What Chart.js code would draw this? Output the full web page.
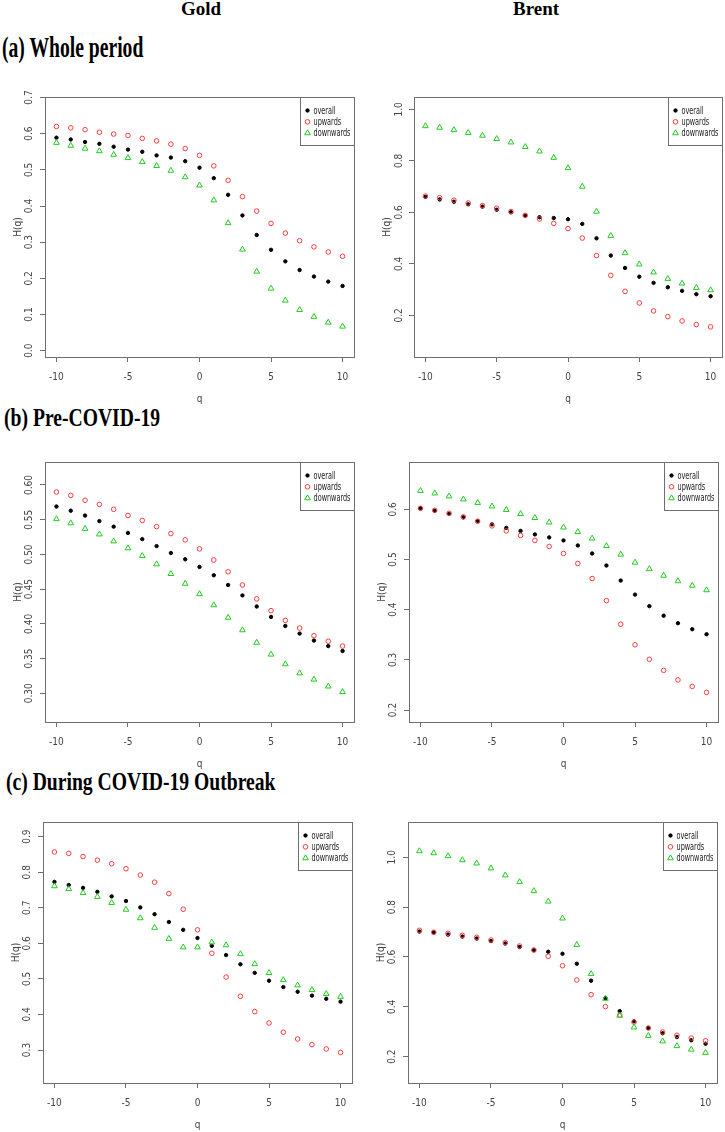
<!DOCTYPE html>
<html>
<head>
<meta charset="utf-8">
<script src="https://cdn.jsdelivr.net/npm/chart.js@4"></script>
<style>
  html, body { margin: 0; padding: 0; background: #fff; overflow: hidden; }
  #page { position: relative; width: 725px; height: 1132px; }
  canvas { position: absolute; }
  .head { position: absolute; font-family: "Liberation Serif", "DejaVu Serif", serif; font-weight: bold; color: #000; white-space: nowrap; line-height: 1; }
  .col { font-size: 19px; width: 120px; text-align: center; }
  .sec { transform-origin: 0 0; }
</style>
</head>
<body>
<div id="page">
  <div class="head col" style="left:141px; top:-1px;">Gold</div>
  <div class="head col" style="left:476px; top:-1px;">Brent</div>
  <div class="head sec" style="left:2px; top:32px; font-size:30px; transform:scaleX(0.654);">(a) Whole period</div>
  <div class="head sec" style="left:4px; top:405px; font-size:25px; transform:scaleX(0.785);">(b) Pre-COVID-19</div>
  <div class="head sec" style="left:6px; top:769px; font-size:25px; transform:scaleX(0.785);">(c) During COVID-19 Outbreak</div>
  <canvas id="c1"></canvas>
  <canvas id="c2"></canvas>
  <canvas id="c3"></canvas>
  <canvas id="c4"></canvas>
  <canvas id="c5"></canvas>
  <canvas id="c6"></canvas>
</div>
<script>
// q values on the x axis
const qValues = [-10, -9, -8, -7, -6, -5, -4, -3, -2, -1, 0, 1, 2, 3, 4, 5, 6, 7, 8, 9, 10];

// (a) whole period
const goldWholeOverall = [0.589, 0.584, 0.577, 0.572, 0.564, 0.556, 0.550, 0.540, 0.534, 0.524, 0.506, 0.477, 0.431, 0.374, 0.320, 0.279, 0.247, 0.223, 0.205, 0.191, 0.179];
const goldWholeUp = [0.620, 0.616, 0.611, 0.604, 0.599, 0.595, 0.587, 0.580, 0.571, 0.559, 0.540, 0.511, 0.471, 0.426, 0.386, 0.352, 0.325, 0.304, 0.287, 0.273, 0.261];
const goldWholeDown = [0.575, 0.567, 0.559, 0.552, 0.542, 0.533, 0.522, 0.511, 0.498, 0.480, 0.457, 0.416, 0.353, 0.280, 0.219, 0.172, 0.139, 0.113, 0.094, 0.078, 0.067];
const brentWholeOverall = [0.660, 0.650, 0.641, 0.631, 0.622, 0.610, 0.600, 0.587, 0.581, 0.578, 0.573, 0.555, 0.499, 0.432, 0.384, 0.350, 0.326, 0.309, 0.295, 0.282, 0.274];
const brentWholeUp = [0.663, 0.657, 0.647, 0.636, 0.626, 0.616, 0.603, 0.588, 0.574, 0.557, 0.537, 0.500, 0.432, 0.355, 0.293, 0.248, 0.217, 0.195, 0.178, 0.164, 0.155];
const brentWholeDown = [0.935, 0.929, 0.920, 0.909, 0.898, 0.885, 0.872, 0.854, 0.837, 0.812, 0.772, 0.700, 0.603, 0.509, 0.442, 0.398, 0.367, 0.342, 0.324, 0.307, 0.298];

// (b) pre-COVID-19
const goldPreOverall = [0.569, 0.563, 0.556, 0.548, 0.540, 0.531, 0.522, 0.512, 0.502, 0.493, 0.482, 0.470, 0.456, 0.441, 0.425, 0.410, 0.397, 0.386, 0.376, 0.368, 0.361];
const goldPreUp = [0.590, 0.585, 0.578, 0.572, 0.565, 0.556, 0.549, 0.540, 0.530, 0.521, 0.508, 0.492, 0.475, 0.456, 0.436, 0.419, 0.405, 0.394, 0.383, 0.375, 0.368];
const goldPreDown = [0.551, 0.545, 0.537, 0.529, 0.519, 0.509, 0.498, 0.486, 0.472, 0.458, 0.443, 0.427, 0.409, 0.391, 0.373, 0.356, 0.342, 0.329, 0.320, 0.310, 0.302];
const brentPreOverall = [0.602, 0.597, 0.591, 0.584, 0.577, 0.570, 0.563, 0.557, 0.550, 0.544, 0.538, 0.528, 0.512, 0.488, 0.458, 0.430, 0.407, 0.388, 0.373, 0.361, 0.351];
const brentPreUp = [0.602, 0.598, 0.592, 0.585, 0.576, 0.567, 0.557, 0.548, 0.538, 0.526, 0.512, 0.492, 0.462, 0.418, 0.371, 0.330, 0.301, 0.279, 0.260, 0.247, 0.235];
const brentPreDown = [0.637, 0.632, 0.626, 0.620, 0.613, 0.606, 0.599, 0.591, 0.583, 0.574, 0.564, 0.555, 0.542, 0.527, 0.510, 0.494, 0.481, 0.468, 0.457, 0.448, 0.439];

// (c) during COVID-19 outbreak
const goldCovidOverall = [0.773, 0.764, 0.756, 0.745, 0.732, 0.719, 0.701, 0.682, 0.660, 0.638, 0.615, 0.593, 0.567, 0.541, 0.517, 0.495, 0.477, 0.464, 0.453, 0.444, 0.436];
const goldCovidUp = [0.857, 0.853, 0.844, 0.834, 0.824, 0.810, 0.792, 0.772, 0.740, 0.696, 0.638, 0.572, 0.505, 0.451, 0.408, 0.376, 0.350, 0.331, 0.315, 0.303, 0.293];
const goldCovidDown = [0.761, 0.753, 0.742, 0.731, 0.714, 0.695, 0.671, 0.644, 0.613, 0.589, 0.589, 0.603, 0.595, 0.570, 0.542, 0.517, 0.497, 0.482, 0.469, 0.458, 0.450];
const brentCovidOverall = [0.702, 0.699, 0.690, 0.682, 0.674, 0.664, 0.654, 0.640, 0.627, 0.621, 0.613, 0.573, 0.505, 0.435, 0.383, 0.342, 0.315, 0.294, 0.279, 0.266, 0.252];
const brentCovidUp = [0.707, 0.699, 0.695, 0.687, 0.679, 0.668, 0.658, 0.644, 0.628, 0.603, 0.565, 0.508, 0.449, 0.401, 0.367, 0.339, 0.315, 0.299, 0.286, 0.275, 0.264];
const brentCovidDown = [1.025, 1.017, 1.005, 0.989, 0.976, 0.956, 0.928, 0.901, 0.865, 0.823, 0.755, 0.649, 0.532, 0.433, 0.365, 0.318, 0.284, 0.262, 0.243, 0.229, 0.216];

// tick labels
const xTicks = [-10, -5, 0, 5, 10];
const xTickLabels = ["-10", "-5", "0", "5", "10"];
const yTicksGoldWhole = [0, 0.1, 0.2, 0.3, 0.4, 0.5, 0.6, 0.7];
const yLabelsGoldWhole = ["0.0", "0.1", "0.2", "0.3", "0.4", "0.5", "0.6", "0.7"];
const yTicksBrent = [0.2, 0.4, 0.6, 0.8, 1.0];
const yLabelsBrent = ["0.2", "0.4", "0.6", "0.8", "1.0"];
const yTicksGoldPre = [0.30, 0.35, 0.40, 0.45, 0.50, 0.55, 0.60];
const yLabelsGoldPre = ["0.30", "0.35", "0.40", "0.45", "0.50", "0.55", "0.60"];
const yTicksBrentPre = [0.2, 0.3, 0.4, 0.5, 0.6];
const yLabelsBrentPre = ["0.2", "0.3", "0.4", "0.5", "0.6"];
const yTicksGoldCovid = [0.3, 0.4, 0.5, 0.6, 0.7, 0.8, 0.9];
const yLabelsGoldCovid = ["0.3", "0.4", "0.5", "0.6", "0.7", "0.8", "0.9"];

const seriesNames = ["overall", "upwards", "downwards"];

const narrow = "'Liberation Sans Narrow', 'DejaVu Sans Condensed', 'Liberation Sans', Arial, sans-serif";
const axisGray = "#6e6e6e";

// plot boxes are [left, top, right, bottom] on the page
const panels = [
  { id: "c1", data: [goldWholeOverall, goldWholeUp, goldWholeDown], ticks: yTicksGoldWhole, labels: yLabelsGoldWhole, yMin: -0.0174, yMax: 0.7014, box: [45, 97, 355, 357], pad: 3 },
  { id: "c2", data: [brentWholeOverall, brentWholeUp, brentWholeDown], ticks: yTicksBrent, labels: yLabelsBrent, yMin: 0.0381, yMax: 1.0478, box: [414, 97, 723, 357], pad: 2 },
  { id: "c3", data: [goldPreOverall, goldPreUp, goldPreDown], ticks: yTicksGoldPre, labels: yLabelsGoldPre, yMin: 0.2587, yMax: 0.6331, box: [45, 462, 355, 722], pad: 1 },
  { id: "c4", data: [brentPreOverall, brentPreUp, brentPreDown], ticks: yTicksBrentPre, labels: yLabelsBrentPre, yMin: 0.1761, yMax: 0.6943, box: [409, 462, 719, 722], pad: 3 },
  { id: "c5", data: [goldCovidOverall, goldCovidUp, goldCovidDown], ticks: yTicksGoldCovid, labels: yLabelsGoldCovid, yMin: 0.2072, yMax: 0.9413, box: [43, 822, 353, 1083], pad: 3 },
  { id: "c6", data: [brentCovidOverall, brentCovidUp, brentCovidDown], ticks: yTicksBrent, labels: yLabelsBrent, yMin: 0.0945, yMax: 1.1416, box: [408, 822, 718, 1083], pad: 3 },
];

const pointLook = [
  { pointStyle: "circle", pointRadius: 1.7, backgroundColor: "#000", borderColor: "#000", borderWidth: 1, order: 3 },
  { pointStyle: "circle", pointRadius: 2.3, backgroundColor: "rgba(0,0,0,0)", borderColor: "#ff3c3c", borderWidth: 1, order: 2 },
  { pointStyle: "triangle", pointRadius: 3.3, backgroundColor: "rgba(0,0,0,0)", borderColor: "#22cc22", borderWidth: 1, order: 1 },
];

// box round the plot region, like R's bty="o"
const frame = {
  id: "frame",
  afterDraw(chart) {
    const { ctx, chartArea: a } = chart;
    ctx.save();
    ctx.strokeStyle = axisGray;
    ctx.lineWidth = 1;
    ctx.strokeRect(Math.round(a.left) + 0.5, Math.round(a.top) + 0.5, Math.round(a.right - a.left), Math.round(a.bottom - a.top));
    ctx.restore();
  },
};

// legend in the top-right corner of the plot region
const boxLegend = {
  id: "boxLegend",
  afterDatasetsDraw(chart) {
    const { ctx, chartArea: a } = chart;
    const w = 54, h = 48;
    const x0 = Math.round(a.right - w), y0 = Math.round(a.top);
    ctx.save();
    ctx.fillStyle = "#fff";
    ctx.fillRect(x0, y0, w, h);
    ctx.strokeStyle = axisGray;
    ctx.lineWidth = 1;
    ctx.strokeRect(x0 + 0.5, y0 + 0.5, w, h);
    ctx.font = "10.5px " + narrow;
    ctx.textBaseline = "middle";
    ctx.textAlign = "left";
    // squeeze the text so "downwards" fits the narrow box as in the figure
    const squeeze = Math.min(1, 37 / ctx.measureText("downwards").width);
    chart.data.datasets.forEach((ds, i) => {
      const y = y0 + 13.5 + i * 11.3;
      ctx.fillStyle = ds.backgroundColor;
      ctx.strokeStyle = ds.borderColor;
      ctx.lineWidth = ds.borderWidth;
      Chart.helpers.drawPoint(ctx, { pointStyle: ds.pointStyle, radius: ds.pointRadius, borderWidth: ds.borderWidth, rotation: 0 }, x0 + 7.5, y);
      ctx.save();
      ctx.translate(x0 + 13.5, y + 0.5);
      ctx.scale(squeeze, 1);
      ctx.fillStyle = "#222";
      ctx.fillText(ds.label, 0, 0);
      ctx.restore();
    });
    ctx.restore();
  },
};

const tickFont = { family: narrow, size: 10, lineHeight: 1.2 };

panels.forEach((p) => {
  const [L, T, R, B] = p.box;
  const cv = document.getElementById(p.id);
  cv.width = 36 + (R - L) + 4;
  cv.height = 10 + (B - T) + 48;
  cv.style.left = (L - 36) + "px";
  cv.style.top = (T - 10) + "px";

  new Chart(cv, {
    type: "scatter",
    data: {
      datasets: p.data.map((vals, i) => ({
        label: seriesNames[i],
        data: qValues.map((q, k) => ({ x: q, y: vals[k] })),
        showLine: false,
        clip: false,
        ...pointLook[i],
      })),
    },
    options: {
      responsive: false,
      animation: false,
      events: [],
      devicePixelRatio: 1,
      layout: { padding: { top: 10, right: 4, left: 0, bottom: 0 } },
      plugins: { legend: { display: false }, tooltip: { enabled: false } },
      scales: {
        x: {
          type: "linear",
          min: -10.8,
          max: 10.8,
          afterBuildTicks: (s) => { s.ticks = xTicks.map((v) => ({ value: v })); },
          afterFit: (s) => { s.height = 48; },
          grid: { drawOnChartArea: false, drawTicks: true, tickLength: 5, color: axisGray, tickColor: axisGray },
          border: { display: true, color: axisGray },
          ticks: { padding: 9, font: tickFont, color: "#444", maxRotation: 0, callback: (v, i) => xTickLabels[i] },
          title: { display: true, text: "q", font: tickFont, color: "#444", padding: { top: 0, bottom: 0 } },
        },
        y: {
          type: "linear",
          min: p.yMin,
          max: p.yMax,
          afterBuildTicks: (s) => { s.ticks = p.ticks.map((v) => ({ value: v })); },
          afterFit: (s) => { s.width = 36; },
          grid: { drawOnChartArea: false, drawTicks: true, tickLength: 5, color: axisGray, tickColor: axisGray },
          border: { display: true, color: axisGray },
          ticks: { padding: p.pad, font: tickFont, color: "#444", minRotation: 90, maxRotation: 90, crossAlign: "center", callback: (v, i) => p.labels[i] },
          title: { display: true, text: "H(q)", font: tickFont, color: "#444", padding: { top: 3, bottom: 0 } },
        },
      },
    },
    plugins: [boxLegend, frame],
  });
});
</script>
</body>
</html>
